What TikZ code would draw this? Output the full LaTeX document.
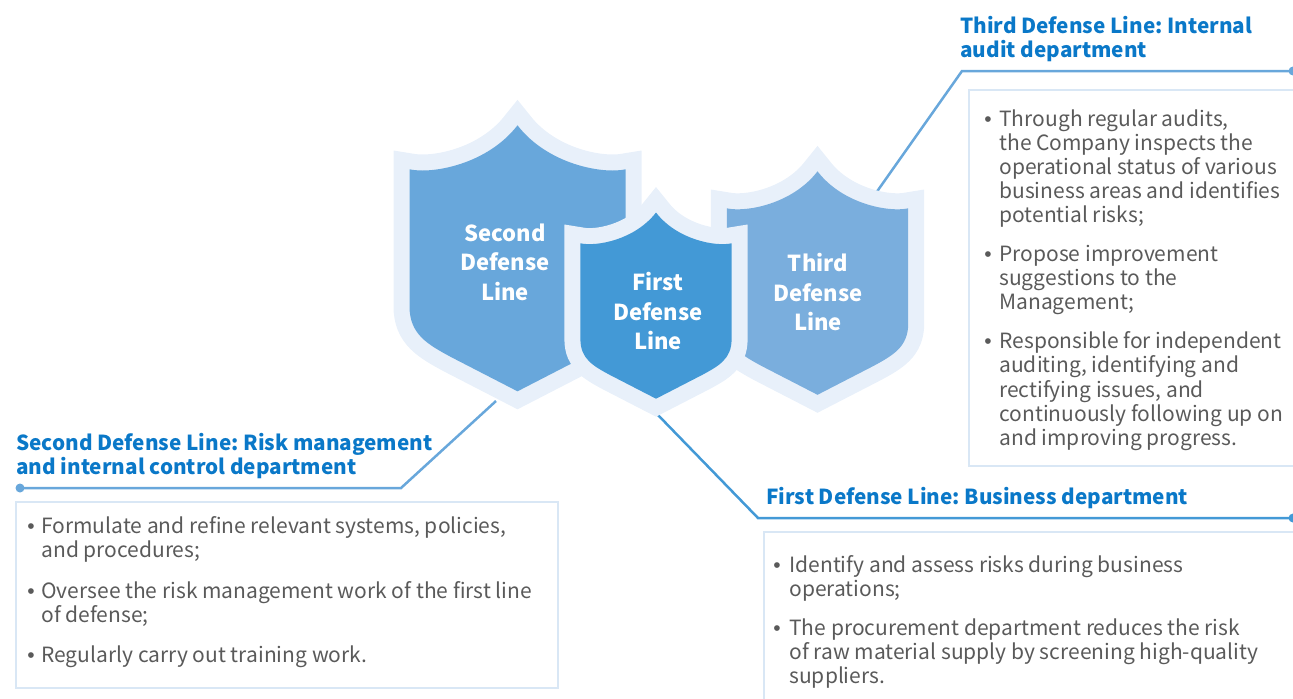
\documentclass[tikz,border=0pt]{standalone}
\usepackage{fontspec}
\setmainfont{Noto Sans CJK SC}
\newfontfamily\dotfont{Liberation Sans}
\usepackage{tikz}
\usetikzlibrary{positioning}
\frenchspacing

\definecolor{halo}{HTML}{E8F0FA}
\definecolor{firstblue}{HTML}{4399D6}
\definecolor{secondblue}{HTML}{68A7DB}
\definecolor{thirdblue}{HTML}{7AAEDD}
\definecolor{titleblue}{HTML}{0A78C8}
\definecolor{bodygray}{HTML}{5A5A5A}
\definecolor{panelline}{HTML}{D9E7F5}

% shield outline round (0,0), the middle of its two top corners
\newcommand{\shieldpath}{(-108,0) .. controls (-85,5) and (-30,-5) .. (0,-44)
  .. controls (30,-5) and (85,5) .. (108,0) -- (108,137)
  .. controls (108,165) and (90,175) .. (66,188) -- (0,222) -- (-66,188)
  .. controls (-90,175) and (-108,165) .. (-108,137) -- cycle}
\newcommand{\shield}[4]{%
  \begin{scope}[shift={(#1,#2)}, scale=#3]
    \path[draw=halo, fill=halo, line width=16pt, line join=miter] \shieldpath;
    \path[fill=#4] \shieldpath;
  \end{scope}}
\newcommand{\dotmark}{{\dotfont •}}

\begin{document}
\begin{tikzpicture}[x=0.5pt, y=-0.5pt,
  ttl/.style={inner sep=0, align=left, text=titleblue, font=\fontsize{10.35}{12}\selectfont\bfseries},
  body/.style={inner sep=0, text=bodygray, font=\fontsize{10.5}{12}\selectfont},
  panel/.style={draw=panelline, line width=0.75pt, anchor=north west, inner sep=0},
  badge/.style={inner sep=0, align=center, text=white, font=\fontsize{11}{14.75}\selectfont\bfseries},
  linkA/.style={draw=firstblue, line width=1.25pt},
  linkB/.style={draw=secondblue, line width=1.25pt}]

\clip (0,0) rectangle (1293,698);

\coordinate (s2foot) at (496,401);
\coordinate (s2bend) at (401,488);
\coordinate (s2end) at (20,488);
\coordinate (s1foot) at (657,414);
\coordinate (s1bend) at (758,518);
\coordinate (s1end) at (1293,518);
\coordinate (s3foot) at (871,200);
\coordinate (s3bend) at (962,71);
\coordinate (s3end) at (1293,71);

\draw[linkB] (s2foot) -- (s2bend) -- (s2end);
\fill[secondblue] (s2end) circle (4.5);
\draw[linkA] (s1foot) -- (s1bend) -- (s1end);
\fill[firstblue] (s1end) circle (4.5);
\draw[linkB] (s3foot) -- (s3bend) -- (s3end);
\fill[secondblue] (s3end) circle (4.5);

\shield{517.5}{169.3}{1}{secondblue}
\shield{817.5}{208.3}{0.84}{thirdblue}
\shield{656}{243.3}{0.7}{firstblue}

\node[badge] (lbl2) at (505,262) {Second\\Defense\\Line};
\node[badge] (lbl1) at (658,311) {First\\Defense\\Line};
\node[badge] (lbl3) at (818,292) {Third\\Defense\\Line};

\node[ttl, anchor=north west] (t2) at (16,433) {Second Defense Line: Risk management\\and internal control department};
\node[ttl, anchor=north west] (t1) at (766,487) {First Defense Line: Business department};
\node[ttl, anchor=north west] (t3) at (960,16) {Third Defense Line: Internal\\audit department};

\node[panel, minimum width=271pt, minimum height=93pt] (b2) at (15,501) {};
\node[panel, minimum width=280pt, minimum height=90pt] (b1) at (763,531) {};
\node[panel, minimum width=170pt, minimum height=188pt] (b3) at (968,89) {};

\node[body, anchor=north west] (p2) at (27,516) {%
\begin{tabular}{@{}p{7pt}@{}l@{}}
\dotmark & Formulate and refine relevant systems, policies,\\
 & and procedures;\\[8.5pt]
\dotmark & Oversee the risk management work of the first line\\
 & of defense;\\[8pt]
\dotmark & Regularly carry out training work.
\end{tabular}};

\node[body, anchor=north west] (p1) at (773,555) {%
\begin{tabular}{@{}p{8pt}@{}l@{}}
\dotmark & Identify and assess risks during business\\
 & operations;\\[7.5pt]
\dotmark & The procurement department reduces the risk\\
 & of raw material supply by screening high-quality\\
 & suppliers.
\end{tabular}};

\node[body, anchor=north west] (p3) at (984,109) {%
\begin{tabular}{@{}p{7.5pt}@{}l@{}}
\dotmark & Through regular audits,\\
 & the Company inspects the\\
 & operational status of various\\
 & business areas and identifies\\
 & potential risks;\\[7.5pt]
\dotmark & Propose improvement\\
 & suggestions to the\\
 & Management;\\[7.5pt]
\dotmark & Responsible for independent\\
 & auditing, identifying and\\
 & rectifying issues, and\\
 & continuously following up on\\
 & and improving progress.
\end{tabular}};

\end{tikzpicture}
\end{document}
